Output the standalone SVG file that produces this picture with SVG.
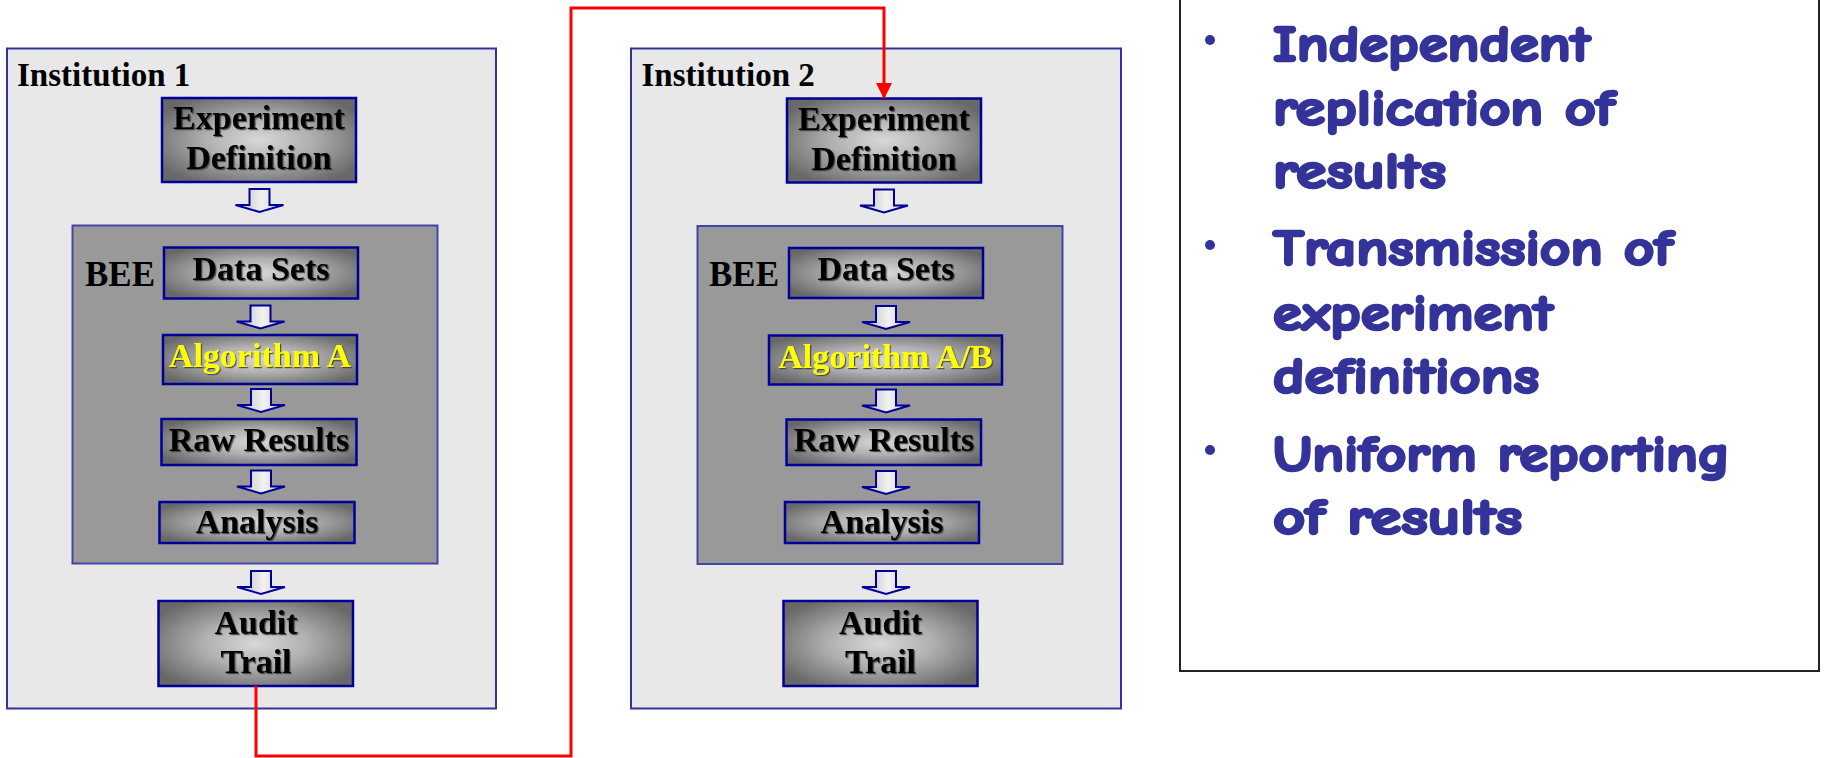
<svg xmlns="http://www.w3.org/2000/svg" xmlns:xlink="http://www.w3.org/1999/xlink" width="1824" height="758" viewBox="0 0 1824 758">
<defs>
<radialGradient id="nodeGrad" cx="0.5" cy="0.5" r="0.6">
<stop offset="0" stop-color="#D8D8D8"/>
<stop offset="0.45" stop-color="#B0B0B0"/>
<stop offset="1" stop-color="#686868"/>
</radialGradient>
<linearGradient id="arrGrad" x1="0" y1="0" x2="1" y2="0">
<stop offset="0" stop-color="#B8B8B8"/>
<stop offset="0.55" stop-color="#F2F2F2"/>
<stop offset="1" stop-color="#C8C8C8"/>
</linearGradient>
<path id="blk" d="M-10,0 H10 V16 H24 L0,23 L-24,16 H-10 Z" fill="url(#arrGrad)" stroke="#000099" stroke-width="2" stroke-linejoin="miter"/>
<marker id="redHead" markerUnits="userSpaceOnUse" markerWidth="16" markerHeight="16" viewBox="0 0 16 16" refX="15" refY="8" orient="auto">
<path d="M0,0 L16,8 L0,16 Z" fill="#FF0000"/>
</marker>
<filter id="shadow" x="-5%" y="-20%" width="115%" height="150%">
<feDropShadow dx="1.2" dy="1.2" stdDeviation="0.4" flood-color="#333333" flood-opacity="0.8"/>
</filter>
<style>
.inst{fill:#E8E8E8;stroke:#3333A0;stroke-width:2}
.bee{fill:#999999;stroke:#4444A8;stroke-width:2}
.node{fill:url(#nodeGrad);stroke:#000099;stroke-width:2.5}
.lbl{font-family:"Liberation Serif","Times New Roman",serif;font-weight:bold;font-size:34px;fill:#000;text-anchor:middle;filter:url(#shadow)}
.yel{fill:#FFFF00}
.ttl{font-family:"Liberation Serif","Times New Roman",serif;font-weight:bold;font-size:33px;fill:#000}
.bul{font-family:"Comic Sans MS","Comic Neue","Open Sans","DejaVu Sans",sans-serif;font-weight:bold;font-size:50px;fill:#333399;stroke:#333399;stroke-width:2.6;stroke-linejoin:round}
.dot{fill:#333399}
.conn{fill:none;stroke:#FF0000;stroke-width:3}
</style>
</defs>
<rect width="1824" height="758" fill="#FFFFFF"/>

<g id="institution1">
<rect class="inst" x="7" y="48.5" width="489" height="660"/>
<text class="ttl" x="17" y="86">Institution 1</text>
</g>
<g id="bee1">
<rect class="bee" x="72.5" y="225.5" width="365" height="338"/>
<text class="ttl" x="85" y="286" style="font-size:35px">BEE</text>
</g>
<g id="expdef1">
<rect class="node" x="162" y="98" width="194" height="84"/>
<text class="lbl" x="259" y="129">Experiment</text>
<text class="lbl" x="259" y="169">Definition</text>
</g>
<g id="datasets1">
<rect class="node" x="164" y="247.5" width="194" height="51"/>
<text class="lbl" x="261" y="280">Data Sets</text>
</g>
<g id="algoA1">
<rect class="node" x="163" y="335" width="194" height="49"/>
<text class="lbl yel" x="260" y="367">Algorithm A</text>
</g>
<g id="raw1">
<rect class="node" x="161.5" y="419" width="195" height="46"/>
<text class="lbl" x="259" y="450.5">Raw Results</text>
</g>
<g id="analysis1">
<rect class="node" x="159.5" y="502" width="195" height="41"/>
<text class="lbl" x="257" y="533">Analysis</text>
</g>
<g id="audit1">
<rect class="node" x="158.5" y="601" width="194.5" height="85"/>
<text class="lbl" x="256" y="634">Audit</text>
<text class="lbl" x="256" y="673">Trail</text>
</g>

<g id="institution2">
<rect class="inst" x="631" y="48.5" width="490" height="660"/>
<text class="ttl" x="641.5" y="86">Institution 2</text>
</g>
<g id="bee2">
<rect class="bee" x="697.5" y="226" width="365" height="338"/>
<text class="ttl" x="709" y="286" style="font-size:35px">BEE</text>
</g>
<g id="expdef2">
<rect class="node" x="787" y="98.5" width="194" height="84"/>
<text class="lbl" x="884" y="129.5">Experiment</text>
<text class="lbl" x="884" y="169.5">Definition</text>
</g>
<g id="datasets2">
<rect class="node" x="789" y="248" width="194" height="50"/>
<text class="lbl" x="886" y="280">Data Sets</text>
</g>
<g id="algoAB2">
<rect class="node" x="769" y="335.5" width="233" height="49"/>
<text class="lbl yel" x="885.5" y="367.5">Algorithm A/B</text>
</g>
<g id="raw2">
<rect class="node" x="786.5" y="419.5" width="194.5" height="45.5"/>
<text class="lbl" x="884" y="451">Raw Results</text>
</g>
<g id="analysis2">
<rect class="node" x="785" y="502" width="194" height="41"/>
<text class="lbl" x="882" y="533">Analysis</text>
</g>
<g id="audit2">
<rect class="node" x="783.5" y="601" width="194" height="85"/>
<text class="lbl" x="880.5" y="634">Audit</text>
<text class="lbl" x="880.5" y="673">Trail</text>
</g>

<g id="connectors">
<use xlink:href="#blk" x="259.5" y="189"/>
<use xlink:href="#blk" x="260.5" y="305.5"/>
<use xlink:href="#blk" x="261" y="389"/>
<use xlink:href="#blk" x="261" y="470.5"/>
<use xlink:href="#blk" x="261" y="571"/>
<use xlink:href="#blk" x="884" y="189.5"/>
<use xlink:href="#blk" x="886" y="306"/>
<use xlink:href="#blk" x="886" y="389.5"/>
<use xlink:href="#blk" x="886" y="471"/>
<use xlink:href="#blk" x="886" y="571"/>
<path class="conn" d="M256,686 V756 H571 V8 H884 V98" marker-end="url(#redHead)"/>
</g>

<g id="notes">
<rect x="1180" y="-10" width="639" height="681" fill="#FFFFFF" stroke="#222222" stroke-width="2"/>
<circle class="dot" cx="1210" cy="40" r="5"/>
<circle class="dot" cx="1210" cy="245" r="5"/>
<circle class="dot" cx="1210" cy="450" r="5"/>
<text class="bul" x="1273" y="61" textLength="317" lengthAdjust="spacingAndGlyphs">Independent</text>
<text class="bul" x="1273" y="125" textLength="342" lengthAdjust="spacingAndGlyphs">replication of</text>
<text class="bul" x="1273" y="188" textLength="173" lengthAdjust="spacingAndGlyphs">results</text>
<text class="bul" x="1273" y="265" textLength="400" lengthAdjust="spacingAndGlyphs">Transmission of</text>
<text class="bul" x="1273" y="330" textLength="280" lengthAdjust="spacingAndGlyphs">experiment</text>
<text class="bul" x="1273" y="393" textLength="266" lengthAdjust="spacingAndGlyphs">definitions</text>
<text class="bul" x="1273" y="471" textLength="457" lengthAdjust="spacingAndGlyphs">Uniform reporting</text>
<text class="bul" x="1273" y="534" textLength="249" lengthAdjust="spacingAndGlyphs">of results</text>
</g>
</svg>
